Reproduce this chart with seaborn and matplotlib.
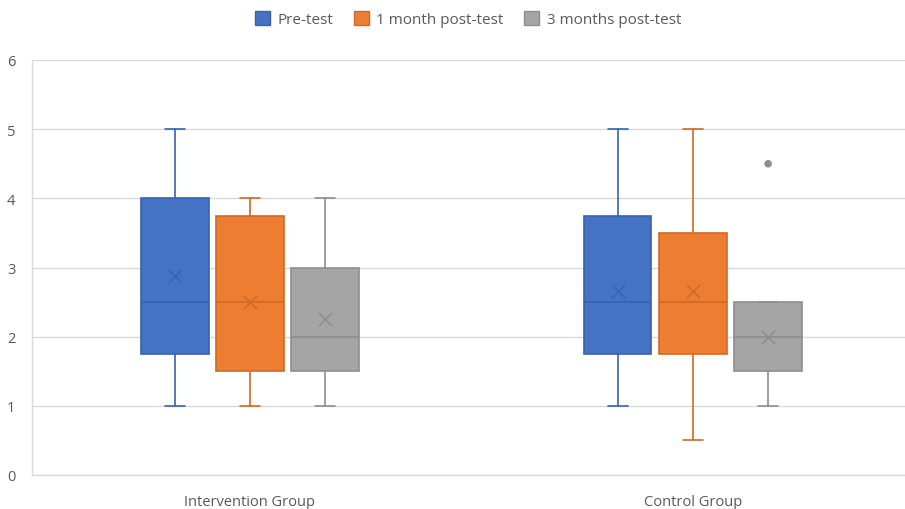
import pandas as pd
import numpy as np
import matplotlib.pyplot as plt
import seaborn as sns
from matplotlib.patches import Patch

# values
groups = ['Intervention Group', 'Control Group']
series = ['Pre-test', '1 month post-test', '3 months post-test']
whislo = [1.0, 1.0, 1.0, 1.0, 0.5, 1.0]
q1 = [1.75, 1.5, 1.5, 1.75, 1.75, 1.5]
med = [2.5, 2.5, 2.0, 2.5, 2.5, 2.0]
q3 = [4.0, 3.75, 3.0, 3.75, 3.5, 2.5]
whishi = [5.0, 4.0, 4.0, 5.0, 5.0, 2.5]
means = [2.88, 2.5, 2.25, 2.66, 2.66, 2.0]
outlier_group = ['Control Group']
outlier_series = ['3 months post-test']
outlier_value = [4.5]

colors = ['#4472C4', '#ED7D31', '#A5A5A5']
dark = ['#3A62AC', '#D06A25', '#8E8E8E']

df = pd.DataFrame({
    'group': np.repeat(groups, len(series)),
    'series': series * len(groups),
    'whislo': whislo, 'q1': q1, 'med': med, 'q3': q3,
    'whishi': whishi, 'mean': means,
})
offsets = {s: (i - 1) * 0.17 for i, s in enumerate(series)}
df['x'] = [groups.index(g) + offsets[s] for g, s in zip(df['group'], df['series'])]

sns.set_theme(style='white')
plt.rcParams['font.family'] = ['Open Sans', 'DejaVu Sans']

fig = plt.figure(figsize=(9.05, 5.1), dpi=100)
ax = fig.add_axes([32 / 905, 1 - 476 / 510, 1 - 32 / 905, (476 - 61) / 510])

for i, row in df.iterrows():
    k = series.index(row['series'])
    stats = [dict(whislo=row['whislo'], q1=row['q1'], med=row['med'],
                  q3=row['q3'], whishi=row['whishi'], fliers=[])]
    ax.bxp(stats, positions=[row['x']], widths=0.153, capwidths=0.045,
           patch_artist=True, showfliers=False,
           boxprops=dict(facecolor=colors[k], edgecolor=dark[k], linewidth=1.2),
           medianprops=dict(color=dark[k], linewidth=1.2),
           whiskerprops=dict(color=dark[k], linewidth=1.2),
           capprops=dict(color=dark[k], linewidth=1.2), zorder=3)

for k, s in enumerate(series):
    sub = df[df['series'] == s]
    sns.scatterplot(x=sub['x'], y=sub['mean'], marker='x', s=90,
                    color=dark[k], linewidth=1.1, ax=ax, zorder=4, legend=False)

out_x = [groups.index(g) + offsets[s] for g, s in zip(outlier_group, outlier_series)]
sns.scatterplot(x=out_x, y=outlier_value, color='#8E8E8E', s=30,
                edgecolor='none', ax=ax, zorder=4, legend=False)

ax.set_xlim(-0.492, 1.479)
ax.set_ylim(0, 6)
ax.set_yticks(range(0, 7))
ax.set_xticks(range(len(groups)))
ax.set_xticklabels(groups)
ax.set_xlabel('')
ax.set_ylabel('')
ax.yaxis.grid(True, color='#D9D9D9', linewidth=1)
ax.set_axisbelow(True)
for side in ['top', 'right']:
    ax.spines[side].set_visible(False)
for side in ['left', 'bottom']:
    ax.spines[side].set_color('#D9D9D9')
    ax.spines[side].set_linewidth(1)
ax.tick_params(axis='both', length=0, labelsize=10.5, colors='#595959')
ax.tick_params(axis='y', pad=12)
ax.tick_params(axis='x', pad=14)

handles = [Patch(facecolor=colors[k], edgecolor=dark[k], label=s) for k, s in enumerate(series)]
fig.legend(handles=handles, loc='center', bbox_to_anchor=(468 / 905, 1 - 20 / 510), ncol=3,
           frameon=False, fontsize=11, handlelength=1.0, handleheight=1.0,
           handletextpad=0.5, columnspacing=1.3, labelcolor='#595959')

fig.savefig('out.png', dpi=100)
